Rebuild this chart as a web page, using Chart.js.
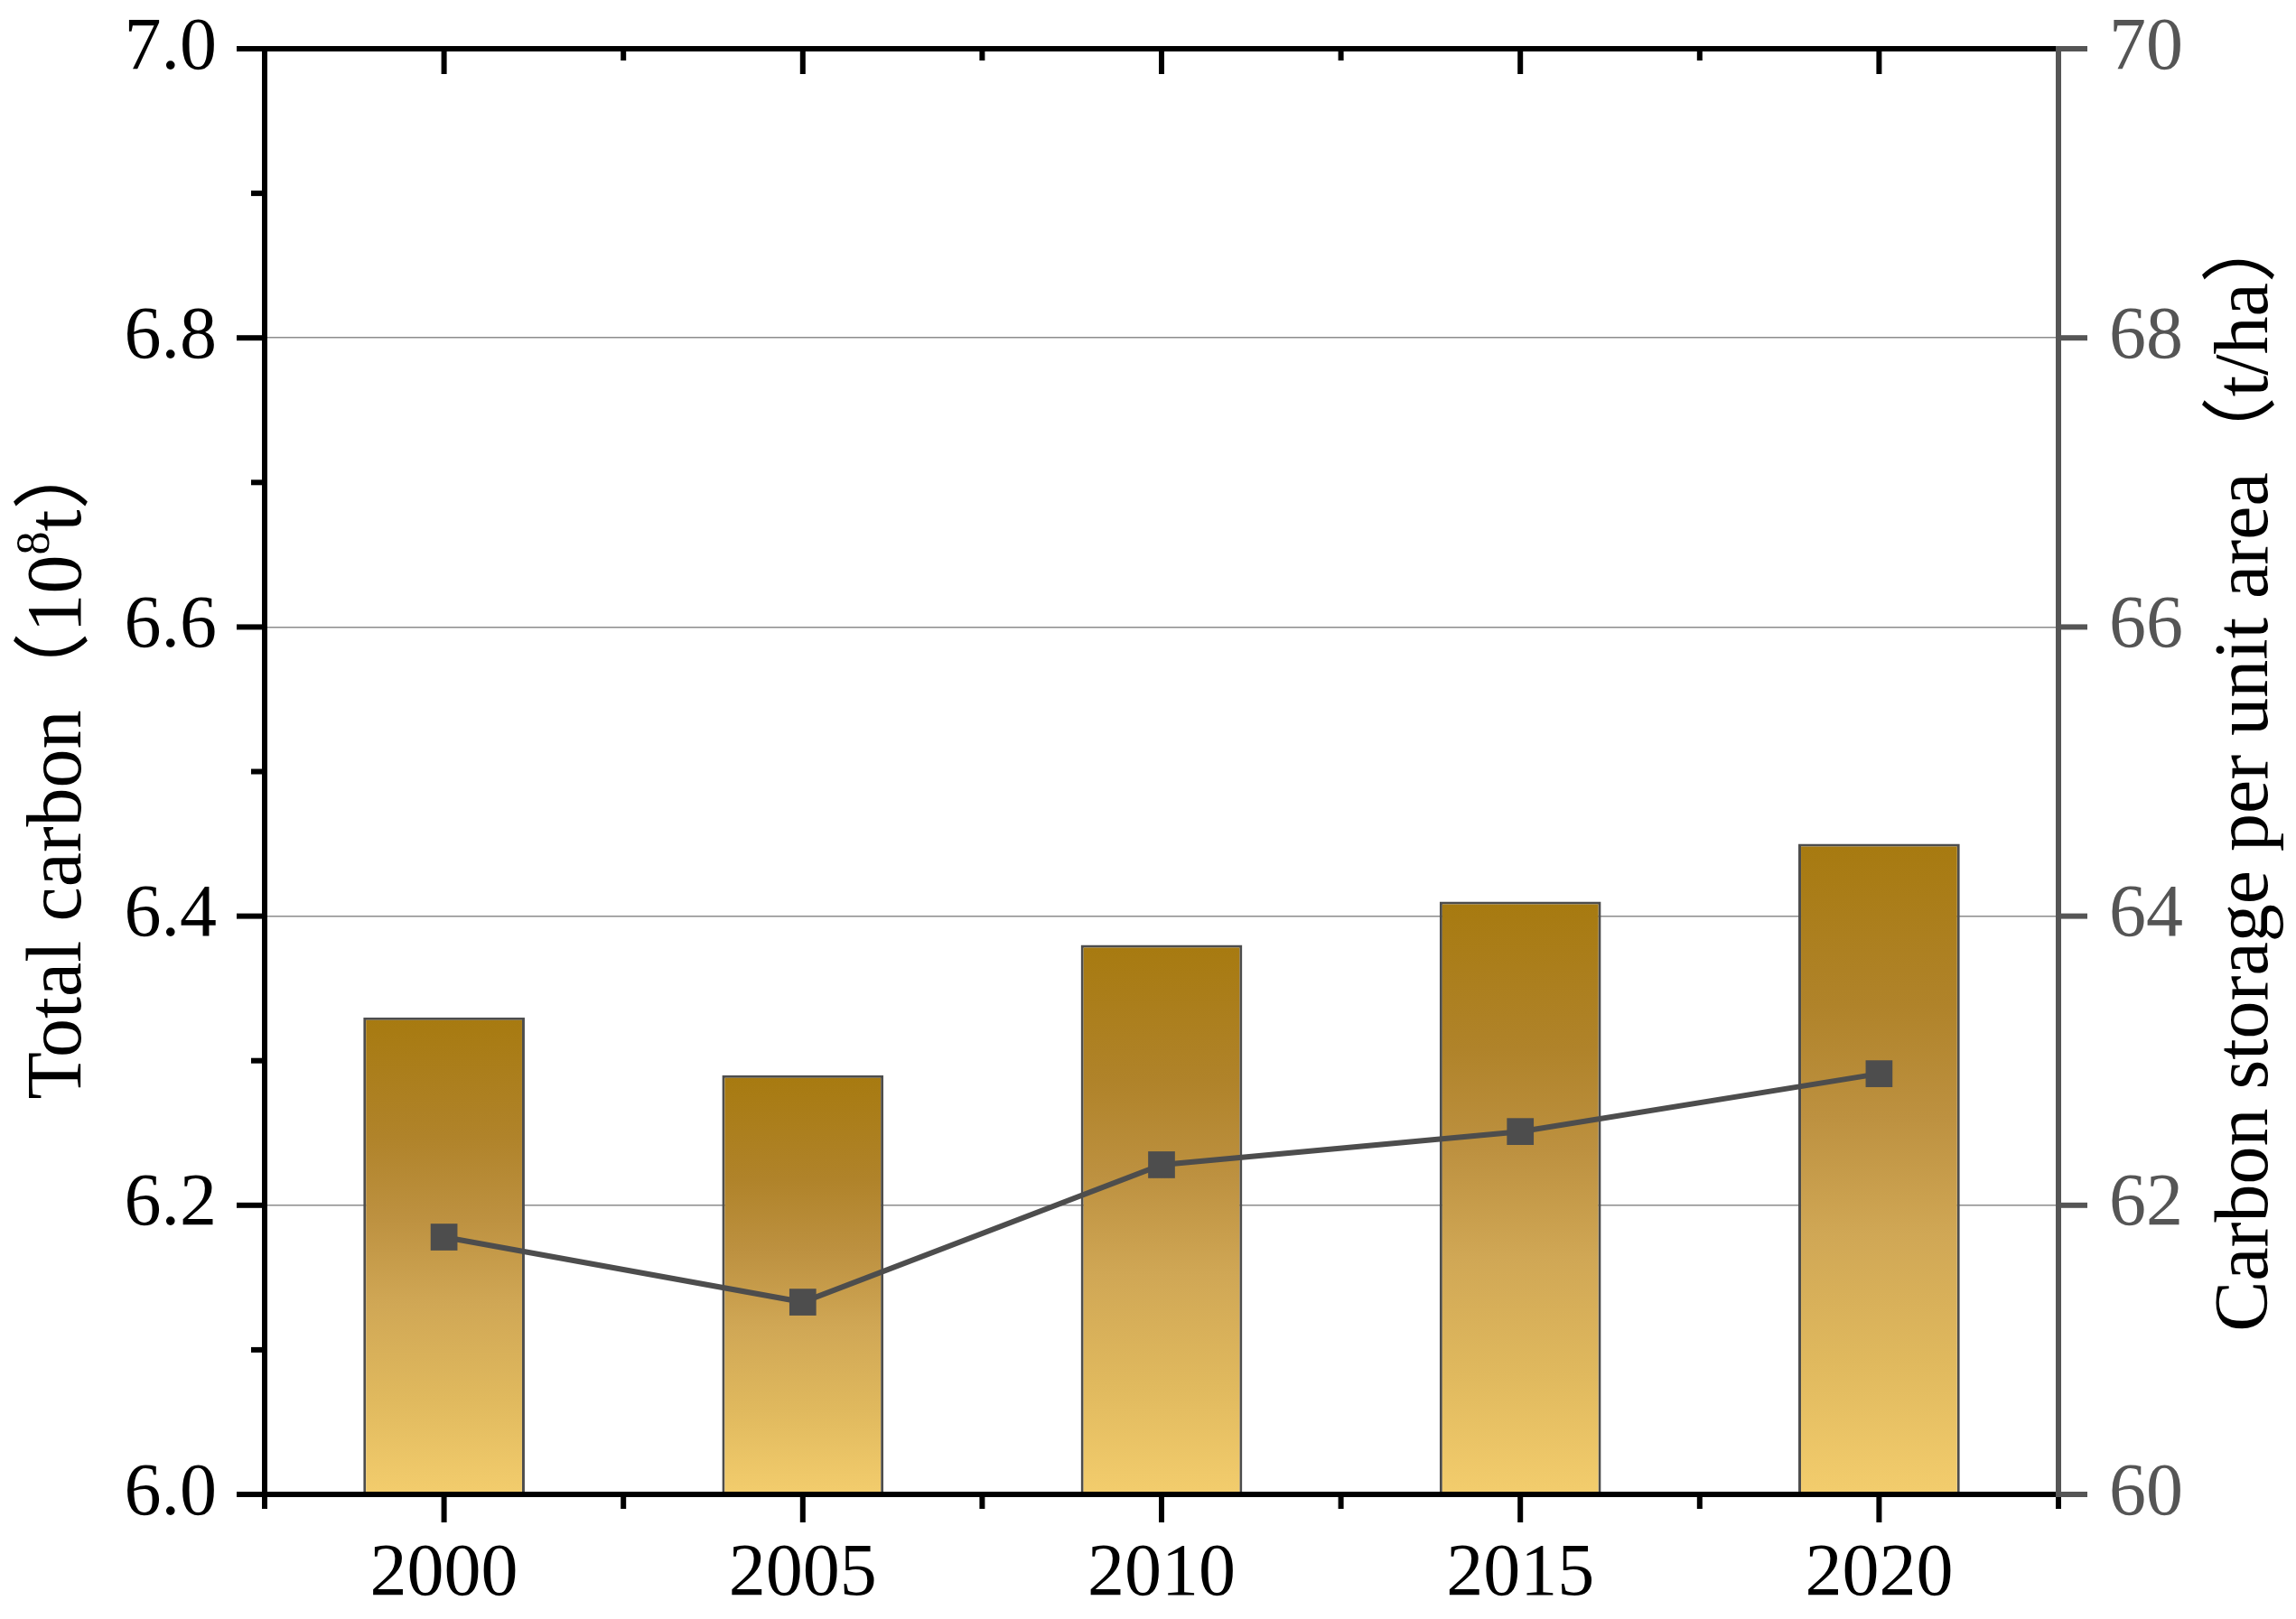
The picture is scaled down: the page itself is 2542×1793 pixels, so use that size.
<!DOCTYPE html>
<html>
<head>
<meta charset="utf-8">
<script src="https://cdn.jsdelivr.net/npm/chart.js@4.4.1/dist/chart.umd.min.js"></script>
<style>
  html, body { margin: 0; padding: 0; background: #fff; }
  #wrap { width: 2542px; height: 1793px; }
</style>
</head>
<body>
<div id="wrap"><canvas id="chart"></canvas></div>
<script>
// data
const years = ['2000', '2005', '2010', '2015', '2020'];
const totalCarbon = [6.33, 6.29, 6.38, 6.41, 6.45];          // 10^8 t, left axis
const carbonPerArea = [61.78, 61.33, 62.28, 62.51, 62.91];   // t/ha, right axis
const leftRange = [6.0, 7.0];
const rightRange = [60, 70];

const SERIF = "'Liberation Serif', 'Noto Sans CJK SC', serif";
const GREY = '#4d4d4d';
const AXW = 6;

// golden vertical gradient per bar, dark on top
function barFill(context) {
  const chart = context.chart;
  const area = chart.chartArea;
  if (!area || context.raw === undefined) return '#d4aa50';
  const y = chart.scales.y;
  const top = y.getPixelForValue(context.raw);
  const g = chart.ctx.createLinearGradient(0, top, 0, area.bottom);
  g.addColorStop(0, '#a77a10');
  g.addColorStop(0.25, '#b0832a');
  g.addColorStop(0.42, '#bd9140');
  g.addColorStop(0.6, '#d0a755');
  g.addColorStop(0.8, '#e0b95e');
  g.addColorStop(1, '#f3cd6d');
  return g;
}

function seg(ctx, x1, y1, x2, y2) {
  ctx.beginPath();
  ctx.moveTo(x1, y1);
  ctx.lineTo(x2, y2);
  ctx.stroke();
}

// keep the scales from reserving room for overhanging labels
function noOverhang(s) {
  s.paddingTop = 0;
  s.paddingBottom = 0;
  s.paddingLeft = 0;
  s.paddingRight = 0;
}

// frame, ticks (major + minor) and rotated axis titles
const axisFrame = {
  id: 'axisFrame',
  afterDatasetsDraw(chart) {
    const { ctx, chartArea: a, scales } = chart;
    const { x, y, y1 } = scales;
    const h = AXW / 2;
    ctx.save();
    ctx.lineCap = 'butt';

    // left ticks, outward
    ctx.strokeStyle = '#000';
    ctx.lineWidth = AXW;
    for (let i = 0; i <= 10; i++) {
      const py = y.getPixelForValue(leftRange[0] + i * 0.1);
      const len = i % 2 === 0 ? 31 : 15;
      seg(ctx, a.left - len, py, a.left, py);
    }

    // bottom ticks outward, top ticks inward
    const band = x.getPixelForValue(1) - x.getPixelForValue(0);
    years.forEach((_, i) => {
      const px = x.getPixelForValue(i);
      seg(ctx, px, a.bottom, px, a.bottom + 31);
      seg(ctx, px, a.top, px, a.top + 28);
    });
    for (let i = 0; i <= years.length; i++) {
      const px = x.getPixelForValue(0) - band / 2 + i * band;
      seg(ctx, px, a.bottom, px, a.bottom + 16);
      seg(ctx, px, a.top, px, a.top + 13);
    }

    // left, top, bottom axis lines
    seg(ctx, a.left, a.top - h, a.left, a.bottom + h);
    seg(ctx, a.left - h, a.top, a.right, a.top);
    seg(ctx, a.left - h, a.bottom, a.right, a.bottom);

    // right axis, grey
    ctx.strokeStyle = '#555';
    for (let v = rightRange[0]; v <= rightRange[1]; v += 2) {
      const py = y1.getPixelForValue(v);
      seg(ctx, a.right, py, a.right + 32, py);
    }
    seg(ctx, a.right, a.top - h, a.right, a.bottom + h);
    ctx.restore();
  },
  afterDraw(chart) {
    const { ctx } = chart;
    ctx.save();
    ctx.fillStyle = '#000';
    ctx.textBaseline = 'alphabetic';
    ctx.textAlign = 'left';

    // left title with superscript 8
    const big = '86px ' + SERIF;
    const small = '52px ' + SERIF;
    const parts = [
      { t: 'Total carbon（10', f: big, dy: 0 },
      { t: '8', f: small, dy: -35 },
      { t: 't）', f: big, dy: 0 }
    ];
    let total = 0;
    parts.forEach(p => { ctx.font = p.f; p.w = ctx.measureText(p.t).width; total += p.w; });
    ctx.translate(89, 848);
    ctx.rotate(-Math.PI / 2);
    let cx = -total / 2;
    parts.forEach(p => { ctx.font = p.f; ctx.fillText(p.t, cx, p.dy); cx += p.w; });
    ctx.setTransform(1, 0, 0, 1, 0, 0);

    // right title
    ctx.font = '84px ' + SERIF;
    ctx.textAlign = 'center';
    ctx.translate(2510, 852);
    ctx.rotate(-Math.PI / 2);
    ctx.fillText('Carbon storage per unit area（t/ha）', 0, 0);
    ctx.restore();
  }
};

new Chart(document.getElementById('chart'), {
  data: {
    labels: years,
    datasets: [
      {
        type: 'line',
        label: 'Carbon storage per unit area',
        data: carbonPerArea,
        yAxisID: 'y1',
        borderColor: GREY,
        borderWidth: 6,
        pointStyle: 'rect',
        pointRadius: 21,
        pointBackgroundColor: GREY,
        pointBorderWidth: 0,
        tension: 0,
        order: 0
      },
      {
        type: 'bar',
        label: 'Total carbon',
        data: totalCarbon,
        yAxisID: 'y',
        backgroundColor: barFill,
        borderColor: GREY,
        borderWidth: 3,
        borderSkipped: false,
        categoryPercentage: 1,
        barPercentage: 0.45,
        order: 1
      }
    ]
  },
  options: {
    responsive: true,
    maintainAspectRatio: false,
    devicePixelRatio: 1,
    animation: false,
    layout: { padding: { top: 54, left: 0, right: 0, bottom: 0 } },
    plugins: { legend: { display: false }, tooltip: { enabled: false } },
    scales: {
      x: {
        type: 'category',
        offset: true,
        grid: { display: false, drawTicks: false },
        border: { display: false },
        ticks: { color: '#000', font: { family: SERIF, size: 82 }, padding: 40, maxRotation: 0 },
        afterFit: s => { s.height = 138; noOverhang(s); }
      },
      y: {
        position: 'left',
        min: leftRange[0],
        max: leftRange[1],
        grid: {
          drawTicks: false,
          lineWidth: 1.5,
          color: c => (c.tick && (c.tick.value <= leftRange[0] || c.tick.value >= leftRange[1] - 1e-9)) ? 'rgba(0,0,0,0)' : '#8c8c8c'
        },
        border: { display: false },
        ticks: {
          stepSize: 0.2,
          padding: 53,
          color: '#000',
          font: { family: SERIF, size: 82 },
          callback: v => Number(v).toFixed(1)
        },
        afterFit: s => { s.width = 293; noOverhang(s); }
      },
      y1: {
        position: 'right',
        min: rightRange[0],
        max: rightRange[1],
        grid: { display: false, drawTicks: false },
        border: { display: false },
        ticks: {
          stepSize: 2,
          padding: 56,
          color: '#555',
          font: { family: SERIF, size: 82 }
        },
        afterFit: s => { s.width = 263; noOverhang(s); }
      }
    }
  },
  plugins: [axisFrame]
});
</script>
</body>
</html>
